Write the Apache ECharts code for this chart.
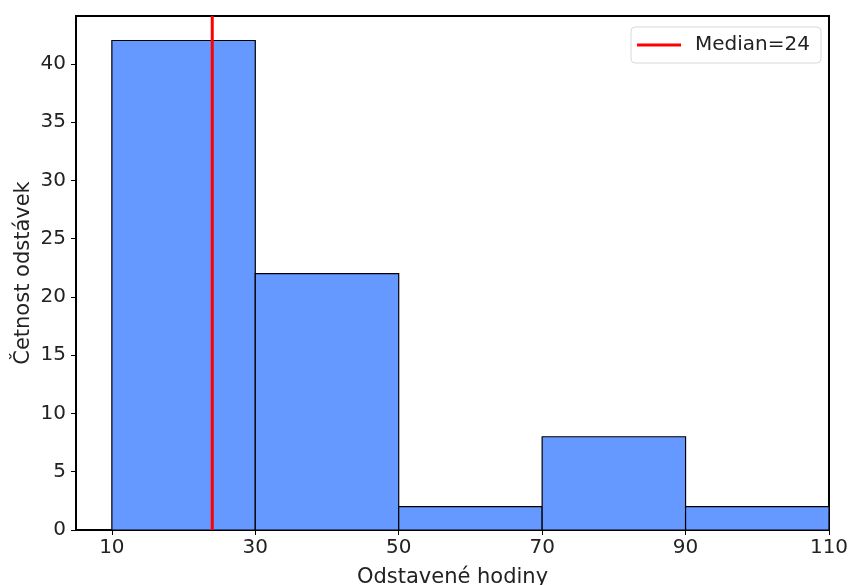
<!DOCTYPE html>
<html>
<head>
<meta charset="utf-8">
<script src="https://cdn.jsdelivr.net/npm/echarts@6/dist/echarts.min.js"></script>
<style>
  html, body { margin: 0; padding: 0; background: #fff; }
  #chart { width: 848px; height: 585px; }
</style>
</head>
<body>
<div id="chart"></div>
<script>
// bin edges and counts
const binStarts = [10, 30, 50, 70, 90];
const binEnds = [30, 50, 70, 90, 110];
const counts = [42, 22, 2, 8, 2];
const median = 24;
const xTicks = [10, 30, 50, 70, 90, 110];

const fontFamily = 'DejaVu Sans';
const barColor = '#6699ff';

const chart = echarts.init(document.getElementById('chart'));

const histData = binStarts.map((s, i) => [s, binEnds[i], counts[i]]);

const option = {
  animation: false,
  textStyle: { fontFamily: fontFamily },
  grid: {
    left: 76, right: 19, top: 16, bottom: 55,
    outerBoundsMode: 'none',
    containLabel: false,
    show: true,
    borderColor: '#000',
    borderWidth: 2,
    backgroundColor: 'transparent'
  },
  legend: {
    top: 27,
    right: 27,
    data: ['Median=' + median],
    icon: 'rect',
    itemWidth: 44,
    itemHeight: 3,
    itemGap: 10,
    padding: [8, 11, 8, 6],
    borderColor: '#d9d9d9',
    borderWidth: 1,
    borderRadius: 4,
    textStyle: { fontSize: 20, color: '#222', fontFamily: fontFamily, padding: [0, 0, 0, 9] }
  },
  xAxis: {
    type: 'value',
    min: 5,
    max: 110,
    name: 'Odstavené hodiny',
    nameLocation: 'middle',
    nameGap: 37,
    nameMoveOverlap: false,
    nameTextStyle: { fontSize: 21, color: '#222', fontFamily: fontFamily },
    axisLine: { show: true, lineStyle: { color: '#000', width: 2 } },
    axisTick: { show: true, length: 5, lineStyle: { color: '#000', width: 1 }, customValues: xTicks },
    axisLabel: { fontSize: 20, color: '#222', margin: 8, customValues: xTicks },
    splitLine: { show: false }
  },
  yAxis: {
    type: 'value',
    min: 0,
    max: 44.1,
    interval: 5,
    name: 'Četnost odstávek',
    nameLocation: 'middle',
    nameGap: 42,
    nameMoveOverlap: false,
    nameTextStyle: { fontSize: 21, color: '#222', fontFamily: fontFamily },
    axisLine: { show: true, lineStyle: { color: '#000', width: 2 } },
    axisTick: { show: true, length: 5, lineStyle: { color: '#000', width: 1 } },
    axisLabel: {
      fontSize: 20, color: '#222', margin: 10,
      showMaxLabel: false
    },
    splitLine: { show: false }
  },
  series: [
    {
      type: 'custom',
      name: 'hist',
      data: histData,
      encode: { x: [0, 1], y: 2 },
      renderItem: function (params, api) {
        const p0 = api.coord([api.value(0), 0]);
        const p1 = api.coord([api.value(1), api.value(2)]);
        return {
          type: 'rect',
          shape: { x: p0[0], y: p1[1], width: p1[0] - p0[0], height: p0[1] - p1[1] },
          style: { fill: barColor, stroke: '#000', lineWidth: 1.2 }
        };
      },
      z: 2
    },
    {
      type: 'line',
      name: 'Median=' + median,
      data: [[median, 0], [median, 44.1]],
      symbol: 'none',
      lineStyle: { color: '#ff0000', width: 3 },
      itemStyle: { color: '#ff0000' },
      z: 3
    }
  ]
};

chart.setOption(option);
</script>
</body>
</html>
